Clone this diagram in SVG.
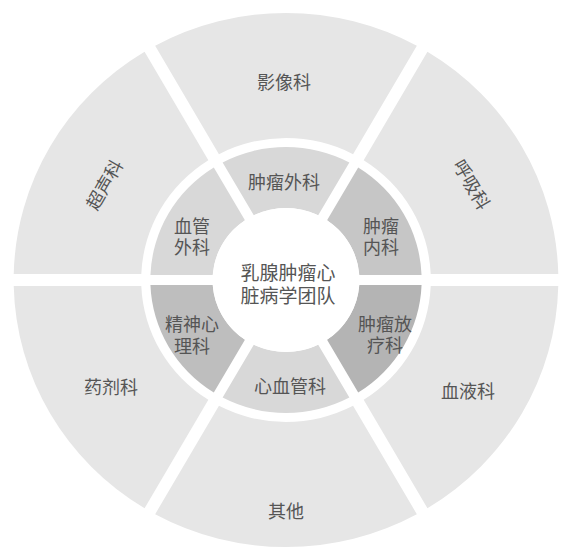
<svg xmlns="http://www.w3.org/2000/svg" width="561" height="550" viewBox="0 0 561 550">
<style>
  .outer { fill: #e6e6e6; }
  .in-light { fill: #d8d8d8; }
  .in-mid { fill: #c6c6c6; }
  .in-mid2 { fill: #bebebe; }
  .in-dark { fill: #b4b4b4; }
  text { font-family: "Liberation Sans", "Noto Sans CJK SC", sans-serif; font-size: 18px; fill: #555555; text-anchor: middle; dominant-baseline: central; }
  .center-text { font-size: 19px; }
</style>
<rect width="561" height="550" fill="#ffffff"/>

<g id="outer-ring">
  <g id="node-yingxiang">
    <path class="outer" d="M 155.16 45.83 A 272.34 267 0 0 1 416.84 45.83 L 353.06 154.13 A 144.84 142 0 0 0 218.95 154.13 Z"/>
    <text x="284" y="83">影像科</text>
  </g>
  <g id="node-huxi">
    <path class="outer" d="M 427.44 51.83 A 272.34 267 0 0 1 558.27 274.00 L 430.71 274.00 A 144.84 142 0 0 0 363.66 160.13 Z"/>
    <text x="471" y="185" transform="rotate(60 471 185)">呼吸科</text>
  </g>
  <g id="node-xueye">
    <path class="outer" d="M 558.27 286.00 A 272.34 267 0 0 1 427.44 508.17 L 363.66 399.87 A 144.84 142 0 0 0 430.71 286.00 Z"/>
    <text x="468" y="392">血液科</text>
  </g>
  <g id="node-qita">
    <path class="outer" d="M 416.84 514.17 A 272.34 267 0 0 1 155.16 514.17 L 218.95 405.87 A 144.84 142 0 0 0 353.06 405.87 Z"/>
    <text x="286" y="512">其他</text>
  </g>
  <g id="node-yaoji">
    <path class="outer" d="M 144.57 508.17 A 272.34 267 0 0 1 13.73 286.00 L 141.29 286.00 A 144.84 142 0 0 0 208.35 399.87 Z"/>
    <text x="111" y="388">药剂科</text>
  </g>
  <g id="node-chaosheng">
    <path class="outer" d="M 13.73 274.00 A 272.34 267 0 0 1 144.57 51.83 L 208.35 160.13 A 144.84 142 0 0 0 141.29 274.00 Z"/>
    <text x="105" y="185" transform="rotate(-60 105 185)">超声科</text>
  </g>
</g>

<g id="inner-ring">
  <g id="node-zhongliu-waike">
    <path class="in-light" d="M 222.63 162.40 A 135.66 133 0 0 1 349.37 162.40 L 318.21 215.30 A 73.44 72 0 0 0 253.79 215.30 Z"/>
    <text x="284" y="183">肿瘤外科</text>
  </g>
  <g id="node-zhongliu-neike">
    <path class="in-mid" d="M 358.20 167.40 A 135.66 133 0 0 1 421.56 275.00 L 359.26 275.00 A 73.44 72 0 0 0 327.05 220.30 Z"/>
    <text x="381" y="227"><tspan x="381" y="227">肿瘤</tspan><tspan x="381" y="248">内科</tspan></text>
  </g>
  <g id="node-zhongliu-fangliao">
    <path class="in-dark" d="M 421.56 285.00 A 135.66 133 0 0 1 358.20 392.60 L 327.05 339.70 A 73.44 72 0 0 0 359.26 285.00 Z"/>
    <text x="385" y="325"><tspan x="385" y="325">肿瘤放</tspan><tspan x="385" y="346">疗科</tspan></text>
  </g>
  <g id="node-xinxueguan">
    <path class="in-light" d="M 349.37 397.60 A 135.66 133 0 0 1 222.63 397.60 L 253.79 344.70 A 73.44 72 0 0 0 318.21 344.70 Z"/>
    <text x="290" y="387">心血管科</text>
  </g>
  <g id="node-jingshen-xinli">
    <path class="in-mid2" d="M 213.80 392.60 A 135.66 133 0 0 1 150.44 285.00 L 212.74 285.00 A 73.44 72 0 0 0 244.95 339.70 Z"/>
    <text x="192" y="325"><tspan x="192" y="325">精神心</tspan><tspan x="192" y="347">理科</tspan></text>
  </g>
  <g id="node-xueguan-waike">
    <path class="in-light" d="M 150.44 275.00 A 135.66 133 0 0 1 213.80 167.40 L 244.95 220.30 A 73.44 72 0 0 0 212.74 275.00 Z"/>
    <text x="192" y="227"><tspan x="192" y="227">血管</tspan><tspan x="192" y="248">外科</tspan></text>
  </g>
</g>

<g id="node-center">
  <ellipse cx="286" cy="280" rx="73.44" ry="72" fill="#ffffff"/>
  <text class="center-text" x="288" y="273"><tspan x="288" y="273">乳腺肿瘤心</tspan><tspan x="288" y="296">脏病学团队</tspan></text>
</g>

<g id="connectors"></g>
</svg>
